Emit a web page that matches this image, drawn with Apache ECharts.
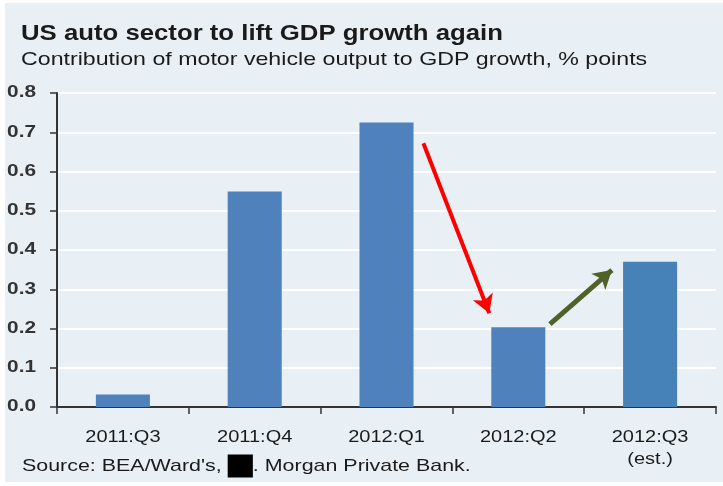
<!DOCTYPE html>
<html>
<head>
<meta charset="utf-8">
<script src="https://cdn.jsdelivr.net/npm/echarts@6/dist/echarts.min.js"></script>
<style>
  html, body { margin: 0; padding: 0; background: #ffffff; }
  #chart { width: 723px; height: 486px; }
</style>
</head>
<body>
<div id="chart"></div>
<script>
// Quarterly contribution of motor vehicle output to GDP growth (% points)
var categories = ['2011:Q3', '2011:Q4', '2012:Q1', '2012:Q2', '2012:Q3\n(est.)'];
var contributions = [0.032, 0.549, 0.725, 0.203, 0.370];
var yTicks = [0.0, 0.1, 0.2, 0.3, 0.4, 0.5, 0.6, 0.7, 0.8];

// Annotation arrows, in [category position, value] units
var fallArrow = [[2.78, 0.672], [3.28, 0.239]];
var riseArrow = [[3.74, 0.211], [4.21, 0.349]];

var FONT = '"Liberation Sans", Arial, sans-serif';
var TEXT = '#1a1a1a';
var barColor = '#4f81bd';
var estColor = '#4682b8';
var STRETCH = 1.25;   // horizontal stretch of the lettering

var chart = echarts.init(document.getElementById('chart'), null, { renderer: 'canvas' });

var baseOption = {
  backgroundColor: '#ffffff',
  animation: false,
  grid: { left: 57, right: 7, top: 93, bottom: 79, containLabel: false },
  xAxis: [
    {
      type: 'category',
      data: categories,
      boundaryGap: true,
      axisLine: { show: true, lineStyle: { color: '#333333', width: 2 } },
      axisTick: { show: true, length: 7, lineStyle: { color: '#333333', width: 1.5 } },
      axisLabel: { show: false }
    },
    { type: 'value', min: 0, max: 5, show: false }
  ],
  yAxis: {
    type: 'value',
    min: yTicks[0],
    max: yTicks[yTicks.length - 1],
    interval: 0.1,
    axisLine: { show: true, lineStyle: { color: '#333333', width: 2 } },
    axisTick: { show: true, length: 7, lineStyle: { color: '#333333', width: 1.5 } },
    splitLine: { show: true, lineStyle: { color: '#ffffff', width: 2 } },
    axisLabel: { show: false }
  },
  series: [
    {
      type: 'bar',
      barWidth: '41%',
      data: contributions.map(function (v, i) {
        return { value: v, itemStyle: { color: i === contributions.length - 1 ? estColor : barColor } };
      }),
      z: 2
    },
    {
      type: 'line',
      xAxisIndex: 1,
      data: [],
      silent: true,
      markLine: {
        silent: true,
        symbol: ['none', 'arrow'],
        symbolSize: [16, 18],
        label: { show: false },
        data: [
          [
            { coord: fallArrow[0], lineStyle: { color: '#ff0000', width: 4, type: 'solid' } },
            { coord: fallArrow[1] }
          ],
          [
            { coord: riseArrow[0], lineStyle: { color: '#4f6228', width: 5, type: 'solid' } },
            { coord: riseArrow[1] }
          ]
        ]
      },
      z: 5
    }
  ]
};
chart.setOption(baseOption);

// Text elements laid out from the axes' own pixel mapping
var graphics = [
  {
    type: 'rect',
    shape: { x: 5, y: 3, width: 718, height: 479 },
    style: { fill: '#e9f0f5' },
    z: -10
  },
  {
    type: 'text', x: 21, y: 34, scaleX: 1.17,
    style: { text: 'US auto sector to lift GDP growth again', font: 'bold 22px ' + FONT,
             fill: TEXT, align: 'left', verticalAlign: 'middle' }
  },
  {
    type: 'text', x: 21, y: 60, scaleX: 1.22,
    style: { text: 'Contribution of motor vehicle output to GDP growth, % points', font: '19px ' + FONT,
             fill: TEXT, align: 'left', verticalAlign: 'middle' }
  },
  {
    type: 'text', x: 22, y: 466, scaleX: 1.26,
    style: {
      text: 'Source: BEA/Ward\'s, {box|}. Morgan Private Bank.',
      font: '17px ' + FONT, fill: TEXT, align: 'left', verticalAlign: 'middle',
      rich: { box: { width: 20, height: 23, backgroundColor: '#000000' } }
    }
  }
];

var axisY0 = chart.convertToPixel({ yAxisIndex: 0 }, 0);
yTicks.forEach(function (v) {
  graphics.push({
    type: 'text', x: 36, y: chart.convertToPixel({ yAxisIndex: 0 }, v), scaleX: 1.3,
    style: { text: v.toFixed(1), font: 'bold 16px ' + FONT, fill: '#333333',
             align: 'right', verticalAlign: 'middle' }
  });
});
categories.forEach(function (c, i) {
  graphics.push({
    type: 'text', x: chart.convertToPixel({ xAxisIndex: 0 }, i), y: axisY0 + 20, scaleX: STRETCH,
    style: { text: c, font: '16px ' + FONT, fill: TEXT, lineHeight: 22,
             align: 'center', verticalAlign: 'top' }
  });
});

chart.setOption({ graphic: graphics });
</script>
</body>
</html>
